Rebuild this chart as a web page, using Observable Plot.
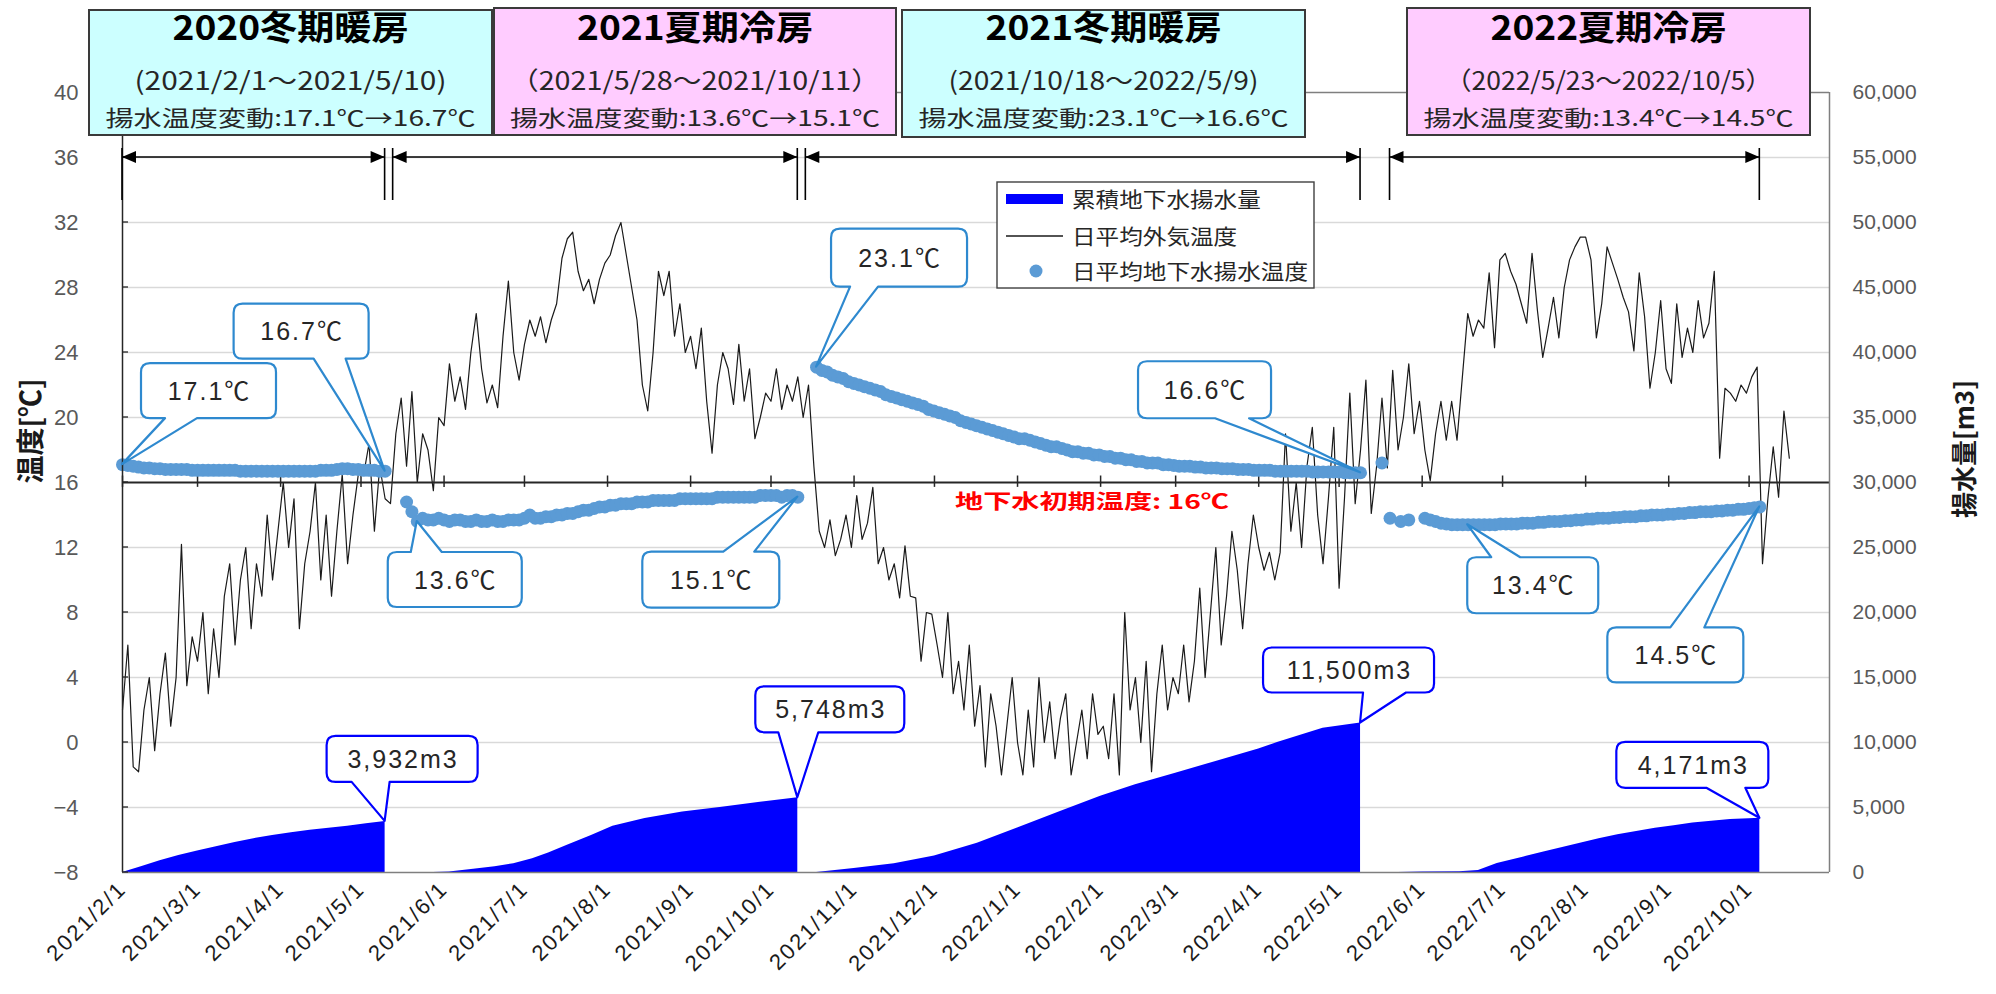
<!DOCTYPE html>
<html>
<head>
<meta charset="utf-8">
<script src="https://cdn.jsdelivr.net/npm/d3@7"></script>
<script src="https://cdn.jsdelivr.net/npm/@observablehq/plot@0.6"></script>
<style>
  html, body { margin: 0; padding: 0; background: #fff; }
  #chart { width: 1996px; height: 994px; overflow: hidden; }
  #chart svg g[aria-label="x-axis tick label"] text { letter-spacing: 2px; }
</style>
</head>
<body>
<div id="chart"></div>
<script>
// ---------- data ----------
const tempTicks = [-8, -4, 0, 4, 8, 12, 16, 20, 24, 28, 32, 36, 40];
const monthTicks = [
  "2021-02-01","2021-03-01","2021-04-01","2021-05-01","2021-06-01","2021-07-01","2021-08-01",
  "2021-09-01","2021-10-01","2021-11-01","2021-12-01","2022-01-01","2022-02-01","2022-03-01",
  "2022-04-01","2022-05-01","2022-06-01","2022-07-01","2022-08-01","2022-09-01","2022-10-01"
];

// daily mean outdoor air temperature [℃], one reading every 2 days from 2021/2/1
const outdoorStart = "2021-02-01";
const outdoorStepDays = 2;
const outdoorTemp = [
  // 2021 Feb
  2, 6, -1.5, -1.8, 2, 4, -0.5, 3, 5.5, 1, 4, 12.2, 3.5, 6.5,
  // Mar
  5, 8, 3, 7, 4, 9, 11, 6, 10, 12, 7, 11, 9, 14, 10, 13,
  // Apr
  16, 12, 15, 7, 11, 13, 16, 10, 14, 9, 13, 16.5, 11, 14, 16.5,
  // May
  16.5, 18.4, 13, 17, 15, 14.7, 19, 21.2, 17, 21.6, 16, 19, 18, 15.5, 20,
  // Jun
  19.5, 23.3, 21, 22.5, 20.5, 24, 26.4, 23, 20.9, 22, 20.6, 25, 28.4, 24, 22.3,
  // Jul
  24.5, 26, 25, 26.2, 24.6, 26, 27, 29.8, 31, 31.4, 29, 27.8, 28.5, 27, 28.5, 29.5,
  // Aug
  30, 31.2, 32, 30, 28, 26, 22, 20.4, 24, 29, 27.5, 29, 25, 27, 24,
  // Sep
  25, 23, 25.5, 21, 17.8, 22, 24, 23, 20.8, 24.5, 21, 23, 18.7, 20, 21.5,
  // Oct
  21, 23, 20.5, 22, 21, 22.5, 20, 22, 17, 13, 12, 13.7, 11.5, 12.5, 14, 12,
  // Nov
  15.2, 12.5, 13.5, 15.7, 11, 12, 10, 11, 8.9, 12.1, 9, 8.9, 5, 8, 7.9,
  // Dec
  6, 4, 8, 3, 5, 2, 6, 1, 3.5, -1.5, 3, 1, -2, 1, 4,
  // 2022 Jan
  0, -2, 2, -1.5, 4, 0, 2.5, -1, 1.5, 3, -2, 0, 2, -1, 3, 0.5,
  // Feb
  1, -1, 3, -2, 8, 2, 4, 0, 5, -1.8, 3, 6, 2, 4,
  // Mar
  3, 6, 2.5, 5, 9.5, 4, 8, 12, 6, 9, 13, 10.6, 7, 11, 14,
  // Apr
  12, 10.6, 11.7, 10, 11.7, 19, 13, 16, 12, 17, 19.4, 14, 11, 15, 19.4,
  // May
  9.5, 15, 21.5, 14.7, 18, 22.3, 14.1, 17, 21.2, 16.9, 22.9, 18, 20, 23.3, 19, 21,
  // Jun
  18, 16.1, 19, 21, 18.6, 21, 18.6, 22.5, 26.4, 25, 26, 25.5, 28.9, 24.3, 29.7,
  // Jul
  30.1, 29, 28.2, 27, 25.8, 30.1, 26.6, 23.7, 25.5, 27.4, 24.9, 28, 29.7, 30.5, 31.1,
  // Aug
  31.1, 29.7, 24.9, 27, 30.5, 29.5, 28.5, 27.4, 26.5, 24.1, 28.9, 26.2, 21.8, 24, 27.2, 23,
  // Sep
  22.1, 27, 23.7, 25.5, 24, 27.2, 24.9, 25.8, 29, 17.5, 21.8, 21.5, 21, 22, 21.5,
  // Oct
  22.5, 23.1, 11, 15, 18.2, 15.1, 20.4, 17.5
];

// daily mean pumped groundwater temperature [℃], every ~2 days within each run
const gwP1Range = ["2021-02-01", "2021-05-10"];
const gwP1 = [
  17.1, 17.05, 17.0, 16.95, 16.9, 16.9, 16.85, 16.85, 16.8, 16.8,
  16.8, 16.8, 16.8, 16.75, 16.75, 16.75, 16.75, 16.75, 16.75, 16.75,
  16.75, 16.75, 16.7, 16.7, 16.7, 16.7, 16.7, 16.7, 16.7, 16.7,
  16.7, 16.7, 16.7, 16.7, 16.7, 16.7, 16.7, 16.75, 16.75, 16.75,
  16.8, 16.85, 16.85, 16.8, 16.8, 16.75, 16.75, 16.75, 16.7, 16.7
];
const gwP2Range = ["2021-05-18", "2021-10-11"];
const gwP2 = [
  14.8, 14.2, 13.6, 13.8, 13.7, 13.7, 13.8, 13.7, 13.6, 13.7,
  13.7, 13.6, 13.6, 13.7, 13.6, 13.6, 13.7, 13.6, 13.6, 13.7,
  13.7, 13.7, 13.8, 14.0, 13.8, 13.8, 13.9, 13.9, 14.0, 14.0,
  14.1, 14.1, 14.2, 14.3, 14.3, 14.4, 14.5, 14.5, 14.6, 14.6,
  14.7, 14.7, 14.7, 14.8, 14.8, 14.8, 14.9, 14.9, 14.9, 14.9,
  14.9, 15.0, 15.0, 15.0, 15.0, 15.0, 15.0, 15.0, 15.1, 15.1,
  15.1, 15.1, 15.1, 15.1, 15.1, 15.1, 15.2, 15.2, 15.2, 15.2,
  15.1, 15.2, 15.2, 15.1
];
const gwP3Range = ["2021-10-18", "2022-05-09"];
const gwP3 = [
  23.1, 22.9, 22.8, 22.6, 22.5, 22.4, 22.2, 22.1,
  22.0, 21.9, 21.8, 21.7, 21.6, 21.4, 21.3,
  21.2, 21.1, 21.0, 20.9, 20.8, 20.7, 20.5, 20.4,
  20.3, 20.2, 20.1, 20.0, 19.8, 19.7, 19.6,
  19.5, 19.4, 19.3, 19.2, 19.1, 19.0, 18.9, 18.8,
  18.7, 18.7, 18.6, 18.5, 18.4, 18.3, 18.2,
  18.2, 18.1, 18.0, 17.9, 17.9, 17.8, 17.8, 17.7,
  17.7, 17.6, 17.6, 17.5, 17.5, 17.4, 17.4,
  17.3, 17.3, 17.2, 17.2, 17.2, 17.1, 17.1, 17.05,
  17.0, 17.0, 17.0, 16.95, 16.95, 16.9, 16.9,
  16.9, 16.85, 16.85, 16.85, 16.8, 16.8, 16.8, 16.75,
  16.75, 16.75, 16.75, 16.7, 16.7, 16.7, 16.7,
  16.7, 16.7, 16.7, 16.65, 16.65, 16.65, 16.65, 16.65,
  16.65, 16.6, 16.6, 16.6, 16.6
];
const gwSparseDates = ["2022-05-17", "2022-05-20", "2022-05-24", "2022-05-27"];
const gwSparse = [17.2, 13.8, 13.6, 13.7];
const gwP4Range = ["2022-06-02", "2022-10-05"];
const gwP4 = [
  13.8, 13.7, 13.6, 13.5, 13.45, 13.4, 13.4,
  13.4, 13.4, 13.4, 13.4, 13.4, 13.4, 13.4, 13.45,
  13.45, 13.45, 13.45, 13.5, 13.5, 13.5, 13.55,
  13.55, 13.6, 13.6, 13.6, 13.65, 13.65, 13.7, 13.7,
  13.75, 13.75, 13.8, 13.8, 13.8, 13.85, 13.85,
  13.9, 13.9, 13.9, 13.95, 13.95, 14.0, 14.0, 14.0,
  14.05, 14.05, 14.1, 14.1, 14.15, 14.15, 14.2,
  14.2, 14.2, 14.25, 14.25, 14.3, 14.3, 14.35, 14.35,
  14.4, 14.45, 14.5
];

// cumulative pumped groundwater volume [m3] per operating season
const volP1 = [["2021-02-01",0],["2021-02-08",450],["2021-02-15",900],["2021-02-22",1300],["2021-03-01",1650],
  ["2021-03-08",1980],["2021-03-15",2300],["2021-03-22",2600],["2021-03-29",2850],["2021-04-05",3050],
  ["2021-04-12",3250],["2021-04-19",3400],["2021-04-26",3550],["2021-05-03",3750],["2021-05-10",3932]];
const volP2 = [["2021-05-28",0],["2021-06-03",30],["2021-06-12",250],["2021-06-20",450],["2021-06-27",680],
  ["2021-07-04",1050],["2021-07-10",1500],["2021-07-17",2100],["2021-07-26",2850],["2021-08-03",3550],
  ["2021-08-15",4150],["2021-08-29",4650],["2021-09-12",5000],["2021-09-27",5400],["2021-10-11",5748]];
const volP3 = [["2021-10-18",0],["2021-11-01",300],["2021-11-16",680],["2021-12-01",1270],["2021-12-17",2250],
  ["2022-01-01",3420],["2022-01-17",4700],["2022-02-01",5870],["2022-02-14",6750],["2022-03-01",7630],
  ["2022-03-17",8600],["2022-04-01",9500],["2022-04-08",10000],["2022-04-25",11100],["2022-05-09",11500]];
const volP4 = [["2022-05-23",0],["2022-06-01",30],["2022-06-15",50],["2022-06-22",150],["2022-06-29",700],
  ["2022-07-09",1200],["2022-07-16",1550],["2022-07-23",1900],["2022-07-30",2250],["2022-08-06",2600],
  ["2022-08-13",2900],["2022-08-20",3150],["2022-08-27",3400],["2022-09-03",3600],["2022-09-10",3800],
  ["2022-09-17",3950],["2022-09-24",4070],["2022-10-01",4140],["2022-10-05",4171]];

// operating seasons shown in the header boxes
const seasonTitles = ["2020冬期暖房", "2021夏期冷房", "2021冬期暖房", "2022夏期冷房"];
const seasonRanges = ["(2021/2/1～2021/5/10)", "（2021/5/28～2021/10/11）", "(2021/10/18～2022/5/9)", "（2022/5/23～2022/10/5）"];
const seasonTempChange = [[17.1, 16.7], [13.6, 15.1], [23.1, 16.6], [13.4, 14.5]];
const seasonCooling = [false, true, false, true];
const spanStarts = ["2021-02-01", "2021-05-13", "2021-10-14", "2022-05-20"];
const spanEnds = ["2021-05-10", "2021-10-11", "2022-05-09", "2022-10-05"];

// labelled values
const tempCallouts = [
  {date: "2021-02-01", value: 17.1}, {date: "2021-05-10", value: 16.7},
  {date: "2021-05-22", value: 13.6}, {date: "2021-10-11", value: 15.1},
  {date: "2021-10-18", value: 23.1}, {date: "2022-05-09", value: 16.6},
  {date: "2022-06-18", value: 13.4}, {date: "2022-10-05", value: 14.5}
];
const volCallouts = [
  {date: "2021-05-10", value: 3932}, {date: "2021-10-11", value: 5748},
  {date: "2022-05-09", value: 11500}, {date: "2022-10-05", value: 4171}
];

const legendLabels = ["累積地下水揚水量", "日平均外気温度", "日平均地下水揚水温度"];
const initialTempLabel = "地下水初期温度: 16℃";
const initialTemp = 16;
const yTitleLeft = "温度[℃]";
const yTitleRight = "揚水量[m3]";

// ---------- layout ----------
const tempCalloutBoxes = [ // [x0, x1, y0, y1] relative to the tip, pointer side, pointer base x's
  [19, 154, -101, -46, "bottom", 43, 75],
  [-151, -16, -167, -112, "bottom", -71, -39],
  [-29, 105, 31, 86, "top", -6, 25],
  [-155, -18, 55, 111, "top", -74, -43],
  [15, 151, -138, -80, "bottom", 34, 62],
  [-222, -89, -111, -54, "bottom", -145, -111],
  [0, 131, 33, 89, "top", 24, 53],
  [-152, -16, 121, 176, "top", -89, -55]
];
const volCalloutBoxes = [
  [-58, 93, -85, -39, "bottom", -33, 5],
  [-42, 107, -111, -65, "bottom", -19, 21],
  [-97, 74, -75, -30, "bottom", 3, 46],
  [-143, 9, -76, -30, "bottom", -53, -14]
];
const headerBoxes = [[89, 492, 10, 135], [494, 896, 8, 135], [902, 1305, 10, 137], [1407, 1810, 8, 135]];
const headerRangeWidths = [312, 370, 310, 327];

// ---------- helpers ----------
const DAY = 864e5;
const parse = s => new Date(s + "T00:00:00Z");
const spread = ([start, end], values) => {
  const t0 = +parse(start), t1 = +parse(end), n = values.length;
  return values.map((v, i) => ({date: new Date(t0 + i * (t1 - t0) / (n - 1)), value: v}));
};
const fmtVol = d3.format(",");
const vol2temp = v => -8 + v / 1250;

const outdoorRows = outdoorTemp.map((v, i) => ({date: new Date(+parse(outdoorStart) + i * outdoorStepDays * DAY), value: v}));
const gwRows = [
  ...spread(gwP1Range, gwP1), ...spread(gwP2Range, gwP2), ...spread(gwP3Range, gwP3),
  ...gwSparse.map((v, i) => ({date: parse(gwSparseDates[i]), value: v})),
  ...spread(gwP4Range, gwP4)
];
const volRows = [volP1, volP2, volP3, volP4].flatMap((p, k) => p.map(([d, v]) => ({date: parse(d), vol: v, season: k})));
const ticks = monthTicks.map(parse);
const T0 = parse("2021-02-01"), T1 = parse("2022-10-31");

const JP = "'Noto Sans CJK JP', 'Noto Sans', sans-serif";
const LAT = "'Liberation Sans', 'Noto Sans CJK JP', sans-serif";

function calloutPath(x0, x1, y0, y1, side, b1, b2, tx, ty, r) {
  if (side === "bottom") {
    return `M${x0 + r},${y0}H${x1 - r}Q${x1},${y0} ${x1},${y0 + r}V${y1 - r}Q${x1},${y1} ${x1 - r},${y1}` +
      `H${b2}L${tx},${ty}L${b1},${y1}H${x0 + r}Q${x0},${y1} ${x0},${y1 - r}V${y0 + r}Q${x0},${y0} ${x0 + r},${y0}Z`;
  }
  return `M${x0 + r},${y0}H${b1}L${tx},${ty}L${b2},${y0}H${x1 - r}Q${x1},${y0} ${x1},${y0 + r}V${y1 - r}` +
    `Q${x1},${y1} ${x1 - r},${y1}H${x0 + r}Q${x0},${y1} ${x0},${y1 - r}V${y0 + r}Q${x0},${y0} ${x0 + r},${y0}Z`;
}

// annotations: axis titles, season spans, callouts, legend, header boxes
function annotations(index, scales) {
  const {x, y} = scales;
  const g = d3.create("svg:g").attr("text-anchor", "start");

  // inward ticks on the left axis
  g.append("g").selectAll("line").data(tempTicks).join("line")
    .attr("x1", x(T0)).attr("x2", x(T0) + 6)
    .attr("y1", d => y(d)).attr("y2", d => y(d))
    .attr("stroke", "#262626").attr("stroke-width", 1.3);

  // axis titles
  g.append("text").attr("transform", `translate(31,431) rotate(-90)`).attr("text-anchor", "middle")
    .attr("dy", "0.35em").attr("font-family", JP).attr("font-weight", 600).attr("font-size", 28)
    .attr("fill", "#1a1a1a").text(yTitleLeft);
  g.append("text").attr("transform", `translate(1965,449) rotate(-90)`).attr("text-anchor", "middle")
    .attr("dy", "0.35em").attr("font-family", JP).attr("font-weight", 600).attr("font-size", 26)
    .attr("fill", "#1a1a1a").text(yTitleRight);

  // season spans with double-headed arrows
  const ya = y(36);
  spanStarts.forEach((s, i) => {
    const xa = x(parse(s)), xb = x(parse(spanEnds[i]));
    const sg = g.append("g").attr("stroke", "#000").attr("fill", "#000");
    sg.append("line").attr("x1", xa).attr("x2", xb).attr("y1", ya).attr("y2", ya).attr("stroke-width", 1.6);
    sg.append("path").attr("d", `M${xa},${ya}L${xa + 14},${ya - 6}L${xa + 14},${ya + 6}Z`).attr("stroke", "none");
    sg.append("path").attr("d", `M${xb},${ya}L${xb - 14},${ya - 6}L${xb - 14},${ya + 6}Z`).attr("stroke", "none");
    for (const xx of [xa, xb]) sg.append("line").attr("x1", xx).attr("x2", xx).attr("y1", ya - 9).attr("y2", ya + 43).attr("stroke-width", 1.6);
  });

  // initial groundwater temperature note
  g.append("text").attr("x", 1092).attr("y", y(initialTemp) + 27).attr("text-anchor", "middle")
    .attr("font-family", JP).attr("font-weight", "bold").attr("font-size", 20).attr("fill", "#ff0000")
    .attr("textLength", 274).attr("lengthAdjust", "spacingAndGlyphs").text(initialTempLabel);

  // callouts
  const drawCallout = (c, box, label, stroke) => {
    const tx = x(parse(c.date)), ty = y(c.kind === "vol" ? vol2temp(c.value) : c.value);
    const [dx0, dx1, dy0, dy1, side, db1, db2] = box;
    const x0 = tx + dx0, x1 = tx + dx1, y0 = ty + dy0, y1 = ty + dy1;
    g.append("path").attr("d", calloutPath(x0, x1, y0, y1, side, tx + db1, tx + db2, tx, ty, 9))
      .attr("fill", "#fff").attr("stroke", stroke).attr("stroke-width", 2.2).attr("stroke-linejoin", "round");
    g.append("text").attr("x", (x0 + x1) / 2 + 1).attr("y", (y0 + y1) / 2 + 9).attr("text-anchor", "middle")
      .attr("font-family", LAT).attr("font-size", 25).attr("letter-spacing", 2).attr("fill", "#262626").text(label);
  };
  tempCallouts.forEach((c, i) => drawCallout({...c, kind: "temp"}, tempCalloutBoxes[i], `${c.value.toFixed(1)}℃`, "#2e89cf"));
  volCallouts.forEach((c, i) => drawCallout({...c, kind: "vol"}, volCalloutBoxes[i], `${fmtVol(c.value)}m3`, "#0000ff"));

  // legend
  const lg = g.append("g");
  lg.append("rect").attr("x", 997).attr("y", 182).attr("width", 317).attr("height", 106)
    .attr("fill", "#fff").attr("stroke", "#404040").attr("stroke-width", 1.4);
  const rows = [199, 236, 271];
  lg.append("rect").attr("x", 1006).attr("y", rows[0] - 5).attr("width", 57).attr("height", 10).attr("fill", "#0000ff");
  lg.append("line").attr("x1", 1006).attr("x2", 1063).attr("y1", rows[1]).attr("y2", rows[1]).attr("stroke", "#1a1a1a").attr("stroke-width", 1.4);
  lg.append("circle").attr("cx", 1036).attr("cy", rows[2]).attr("r", 6.5).attr("fill", "#5b9bd5");
  legendLabels.forEach((t, i) => {
    lg.append("text").attr("x", 1072).attr("y", rows[i] + 8).attr("text-anchor", "start").attr("font-family", JP).attr("font-size", 21)
      .attr("fill", "#262626").attr("textLength", t.length * 23.6).attr("lengthAdjust", "spacingAndGlyphs").text(t);
  });

  // header boxes
  headerBoxes.forEach(([x0, x1, y0, y1], i) => {
    const hg = g.append("g").attr("text-anchor", "middle");
    const cx = (x0 + x1) / 2;
    hg.append("rect").attr("x", x0).attr("y", y0).attr("width", x1 - x0).attr("height", y1 - y0)
      .attr("fill", seasonCooling[i] ? "#ffccff" : "#ccffff").attr("stroke", "#3a3a3a").attr("stroke-width", 2);
    hg.append("text").attr("x", cx).attr("y", 40).attr("font-family", JP)
      .attr("font-weight", "bold").attr("font-size", 34).attr("fill", "#000")
      .attr("textLength", 236).attr("lengthAdjust", "spacingAndGlyphs").text(seasonTitles[i]);
    hg.append("text").attr("x", cx).attr("y", 90).attr("font-family", JP)
      .attr("font-size", 25).attr("fill", "#262626")
      .attr("textLength", headerRangeWidths[i]).attr("lengthAdjust", "spacingAndGlyphs").text(seasonRanges[i]);
    const [a, b] = seasonTempChange[i];
    hg.append("text").attr("x", cx).attr("y", 126).attr("font-family", JP)
      .attr("font-size", 22).attr("fill", "#262626")
      .attr("textLength", 370).attr("lengthAdjust", "spacingAndGlyphs").text(`揚水温度変動:${a.toFixed(1)}℃→${b.toFixed(1)}℃`);
  });
  return g.node();
}

const chart = Plot.plot({
  width: 1996,
  height: 994,
  marginTop: 92,
  marginRight: 167,
  marginBottom: 122,
  marginLeft: 122,
  x: {type: "utc", domain: [T0, T1]},
  y: {domain: [-8, 40]},
  style: {fontFamily: LAT, background: "#fff", overflow: "visible"},
  marks: [
    Plot.ruleY(tempTicks.filter(t => t > -8 && t < 40 && t !== initialTemp), {stroke: "#d9d9d9", strokeWidth: 1.3}),
    Plot.areaY(volRows, {x: "date", y1: -8, y2: d => vol2temp(d.vol), z: "season", fill: "#0000ff"}),
    Plot.line(outdoorRows, {x: "date", y: "value", stroke: "#1a1a1a", strokeWidth: 1.2}),
    Plot.ruleY([initialTemp], {stroke: "#262626", strokeWidth: 2}),
    Plot.ruleX(ticks, {x: d => d, y1: 15.7, y2: 16.4, stroke: "#262626", strokeWidth: 1.5}),
    Plot.dot(gwRows, {x: "date", y: "value", r: 6.5, fill: "#5b9bd5"}),
    Plot.ruleX([T0], {stroke: "#262626", strokeWidth: 1.5}),
    Plot.ruleX([T1], {stroke: "#7f7f7f", strokeWidth: 1.5}),
    Plot.ruleY([40], {stroke: "#7f7f7f", strokeWidth: 1.5}),
    Plot.ruleY([-8], {stroke: "#7f7f7f", strokeWidth: 1.5}),
    Plot.axisY(tempTicks, {anchor: "left", tickSize: 0, tickPadding: 44, fontSize: 22, fill: "#595959", label: null}),
    Plot.axisY(tempTicks, {anchor: "right", tickSize: 0, tickPadding: 23, fontSize: 21, fill: "#595959", label: null,
      tickFormat: t => fmtVol((t + 8) * 1250)}),
    Plot.axisX(ticks, {anchor: "bottom", tickSize: 0, tickPadding: 13, tickRotate: -45, fontSize: 22, fill: "#1a1a1a", label: null,
      tickFormat: d => `${d.getUTCFullYear()}/${d.getUTCMonth() + 1}/${d.getUTCDate()}`}),
    annotations
  ]
});
document.getElementById("chart").append(chart);
</script>
</body>
</html>
